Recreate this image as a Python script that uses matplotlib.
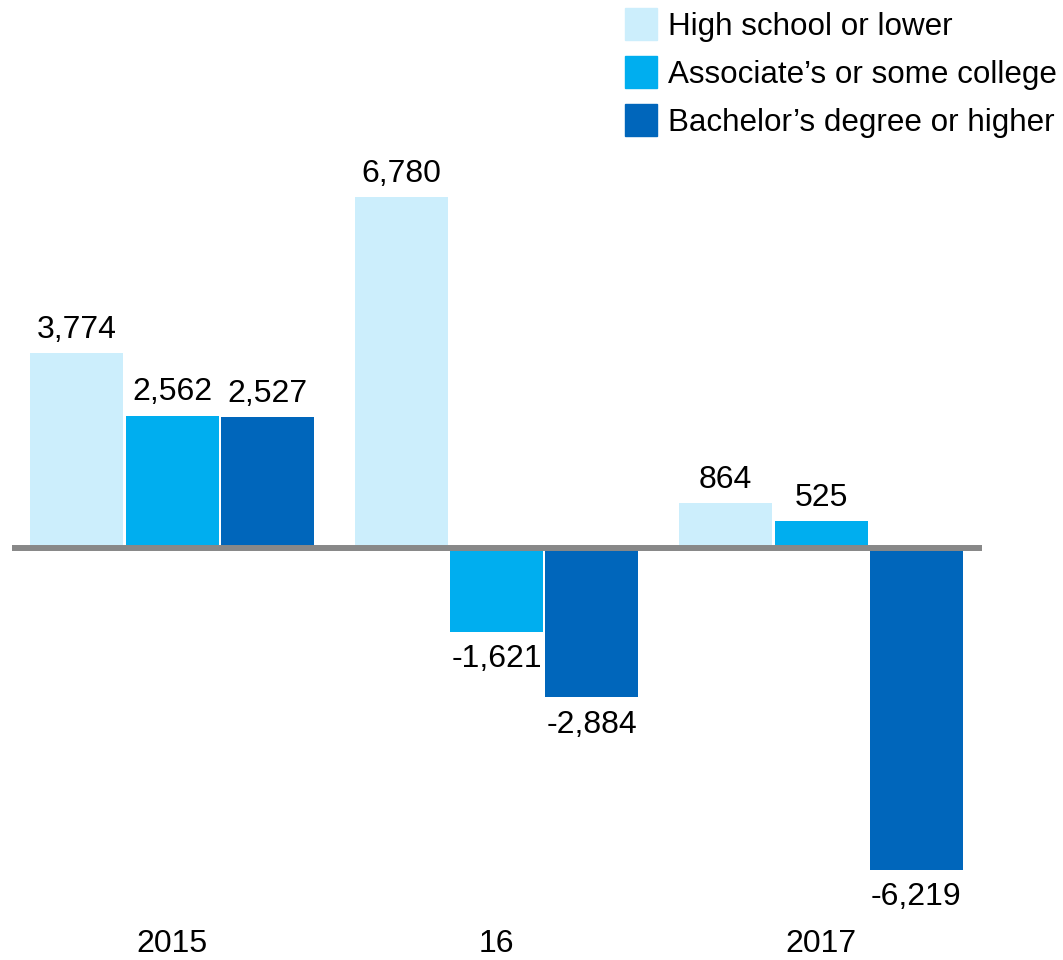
import matplotlib.pyplot as plt
import numpy as np
from matplotlib.patches import Rectangle

plt.rcParams['font.family'] = ['Liberation Sans', 'DejaVu Sans']

years = ["2015", "16", "2017"]
series = ["High school or lower", "Associate\u2019s or some college", "Bachelor\u2019s degree or higher"]
high_school = [3774, 6780, 864]
associate = [2562, -1621, 525]
bachelor = [2527, -2884, -6219]
colors = ["#CCEEFC", "#00AEEF", "#0066BB"]

W, H = 1063, 960
fig = plt.figure(figsize=(W / 100, H / 100), dpi=100)

# axes placed in pixel terms: x from 12 to 982, zero line at y=548
px_per_unit = 0.0517
top_px, bot_px = 150, 905
ax = fig.add_axes([12 / W, 1 - bot_px / H, (982 - 12) / W, (bot_px - top_px) / H])
ax.set_ylim(-(bot_px - 548) / px_per_unit, (548 - top_px) / px_per_unit)
grp = 324.5
ax.set_xlim(-(172 - 12) / grp, (982 - 172) / grp)

x = np.arange(len(years))
width = 93 / grp
step = 95.3 / grp

for i, (vals, c) in enumerate(zip([high_school, associate, bachelor], colors)):
    xs = x + (i - 1) * step
    ax.bar(xs, vals, width=width, color=c, zorder=2)
    for xi, v in zip(xs, vals):
        if v >= 0:
            ax.text(xi, v + 160, f"{v:,}", ha="center", va="bottom", fontsize=23)
        else:
            ax.text(xi, v - 240, f"{v:,}", ha="center", va="top", fontsize=23)

ax.axhline(0, color="#888888", linewidth=4.3, zorder=3)

for s in ax.spines.values():
    s.set_visible(False)
ax.set_xticks([])
ax.set_yticks([])

# year labels at fixed pixel height
for xi, yr in zip(x, years):
    ax.text(xi, -(944 - 548) / px_per_unit, yr, ha="center", va="center", fontsize=23)

# legend drawn manually
for k, (name, c) in enumerate(zip(series, colors)):
    y0 = 8 + k * 48
    fig.add_artist(Rectangle((625 / W, 1 - (y0 + 32) / H), 32 / W, 32 / H,
                             transform=fig.transFigure, color=c))
    fig.text(668 / W, 1 - (y0 + 19) / H, name, ha="left", va="center", fontsize=22.6)

fig.savefig("out.png", dpi=100)
